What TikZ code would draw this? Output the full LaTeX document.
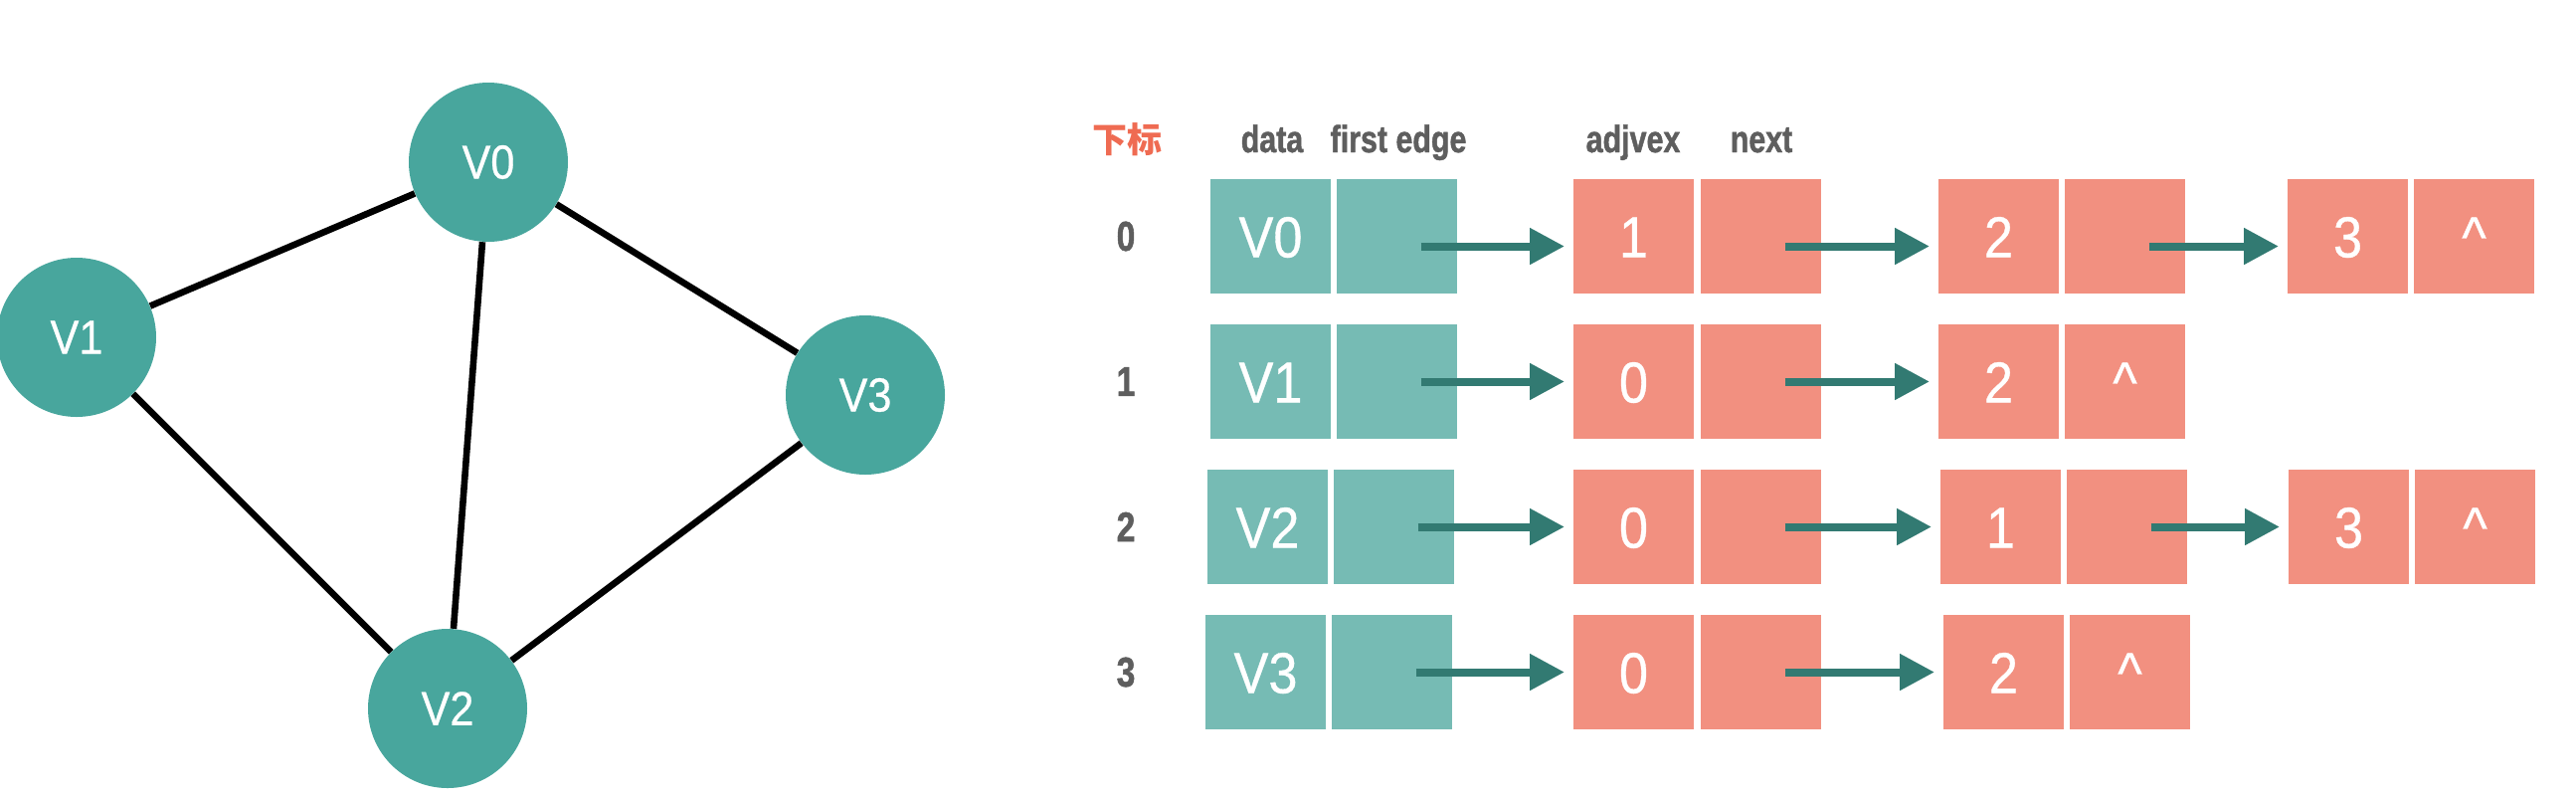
\documentclass[tikz,border=0pt]{standalone}
\usepackage{fontspec}
\setmainfont{Liberation Sans}
\newfontfamily\condfont[FakeStretch=0.8,FakeBold=1.2]{Liberation Sans}
\newfontfamily\cellfont[FakeStretch=0.9,FakeBold=0.6]{Liberation Sans}
\newfontfamily\cjkfont{Noto Sans CJK SC}
\usetikzlibrary{arrows.meta}
\definecolor{vertexgreen}{HTML}{48A69D}
\definecolor{headgreen}{HTML}{76BBB4}
\definecolor{edgered}{HTML}{F29080}
\definecolor{arrowgreen}{HTML}{327A72}
\definecolor{labelgray}{HTML}{5E5E5E}
\definecolor{indexred}{HTML}{EF6B52}

\begin{document}
\begin{tikzpicture}[x=0.5pt, y=-0.5pt,
		>={Triangle[length=17.5pt,width=17.5pt]},   %Pfeilspitzen
		vertex/.style={circle, fill=vertexgreen, minimum size=80pt, inner sep=0pt, text=white, font=\cellfont\fontsize{24}{24}\selectfont},
		cell/.style={anchor=north west, minimum width=60.5pt, minimum height=57.5pt, inner sep=0pt, outer sep=0pt, text=white, text height=21pt, text depth=0pt, font=\cellfont\fontsize{29}{29}\selectfont},
		headcell/.style={cell, fill=headgreen},
		edgecell/.style={cell, fill=edgered},
		link/.style={->, draw=arrowgreen, line width=4pt, shorten >=4.5pt},
		title/.style={anchor=base, text=labelgray, font=\condfont\bfseries\fontsize{19}{19}\selectfont},
		index/.style={text=labelgray, font=\condfont\bfseries\fontsize{21}{21}\selectfont}]
	\useasboundingbox (0,0) rectangle (2590,800);
	% Graph
	\node[vertex] (v0) at (491,163) {V0};
	\node[vertex] (v1) at (77,339) {V1};
	\node[vertex] (v3) at (870,397) {V3};
	\node[vertex] (v2) at (450,712) {V2};
	\draw[line width=3.3pt] (v0) -- (v1);
	\draw[line width=3.3pt] (v0) -- (v3);
	\draw[line width=3.3pt] (v0) -- (v2);
	\draw[line width=3.3pt] (v1) -- (v2);
	\draw[line width=3.3pt] (v2) -- (v3);
	% Kopfzeile
	\node[text=indexred, font=\cjkfont\bfseries\fontsize{17.5}{17.5}\selectfont] (sub) at (1133,140) {下标};
	\node[title] (hdata) at (1279,153) {data};
	\node[title] (hfirst) at (1406,153) {first edge};
	\node[title] (hadj) at (1642,153) {adjvex};
	\node[title] (hnext) at (1771,153) {next};
	% Knotentabelle
	\foreach \r/\y/\x in {0/180/1217, 1/326/1217, 2/472/1214, 3/618/1212} {
		\node[index] (idx\r) at (1132,\y+57.5) {\r};
		\node[headcell] (data\r) at (\x,\y) {V\r};
		\node[headcell] (first\r) at (\x+127,\y) {};
	}
	% Kantenlisten
	\node[edgecell] (adj01) at (1582,180) {1};
	\node[edgecell] (nxt01) at (1710,180) {};
	\node[edgecell] (adj02) at (1949,180) {2};
	\node[edgecell] (nxt02) at (2076,180) {};
	\node[edgecell] (adj03) at (2300,180) {3};
	\node[edgecell] (nxt03) at (2427,180) {\textasciicircum};
	\node[edgecell] (adj11) at (1582,326) {0};
	\node[edgecell] (nxt11) at (1710,326) {};
	\node[edgecell] (adj12) at (1949,326) {2};
	\node[edgecell] (nxt12) at (2076,326) {\textasciicircum};
	\node[edgecell] (adj21) at (1582,472) {0};
	\node[edgecell] (nxt21) at (1710,472) {};
	\node[edgecell] (adj22) at (1951,472) {1};
	\node[edgecell] (nxt22) at (2078,472) {};
	\node[edgecell] (adj23) at (2301,472) {3};
	\node[edgecell] (nxt23) at (2428,472) {\textasciicircum};
	\node[edgecell] (adj31) at (1582,618) {0};
	\node[edgecell] (nxt31) at (1710,618) {};
	\node[edgecell] (adj32) at (1954,618) {2};
	\node[edgecell] (nxt32) at (2081,618) {\textasciicircum};
	% Pfeile
	\draw[link] ([xshift=12pt,yshift=-5pt]first0.center) -- ([yshift=-5pt]adj01.west);
	\draw[link] ([xshift=12pt,yshift=-5pt]nxt01.center) -- ([yshift=-5pt]adj02.west);
	\draw[link] ([xshift=12pt,yshift=-5pt]nxt02.center) -- ([yshift=-5pt]adj03.west);
	\draw[link] ([xshift=12pt]first1.center) -- (adj11.west);
	\draw[link] ([xshift=12pt]nxt11.center) -- (adj12.west);
	\draw[link] ([xshift=12pt]first2.center) -- (adj21.west);
	\draw[link] ([xshift=12pt]nxt21.center) -- (adj22.west);
	\draw[link] ([xshift=12pt]nxt22.center) -- (adj23.west);
	\draw[link] ([xshift=12pt]first3.center) -- (adj31.west);
	\draw[link] ([xshift=12pt]nxt31.center) -- (adj32.west);
\end{tikzpicture}
\end{document}
